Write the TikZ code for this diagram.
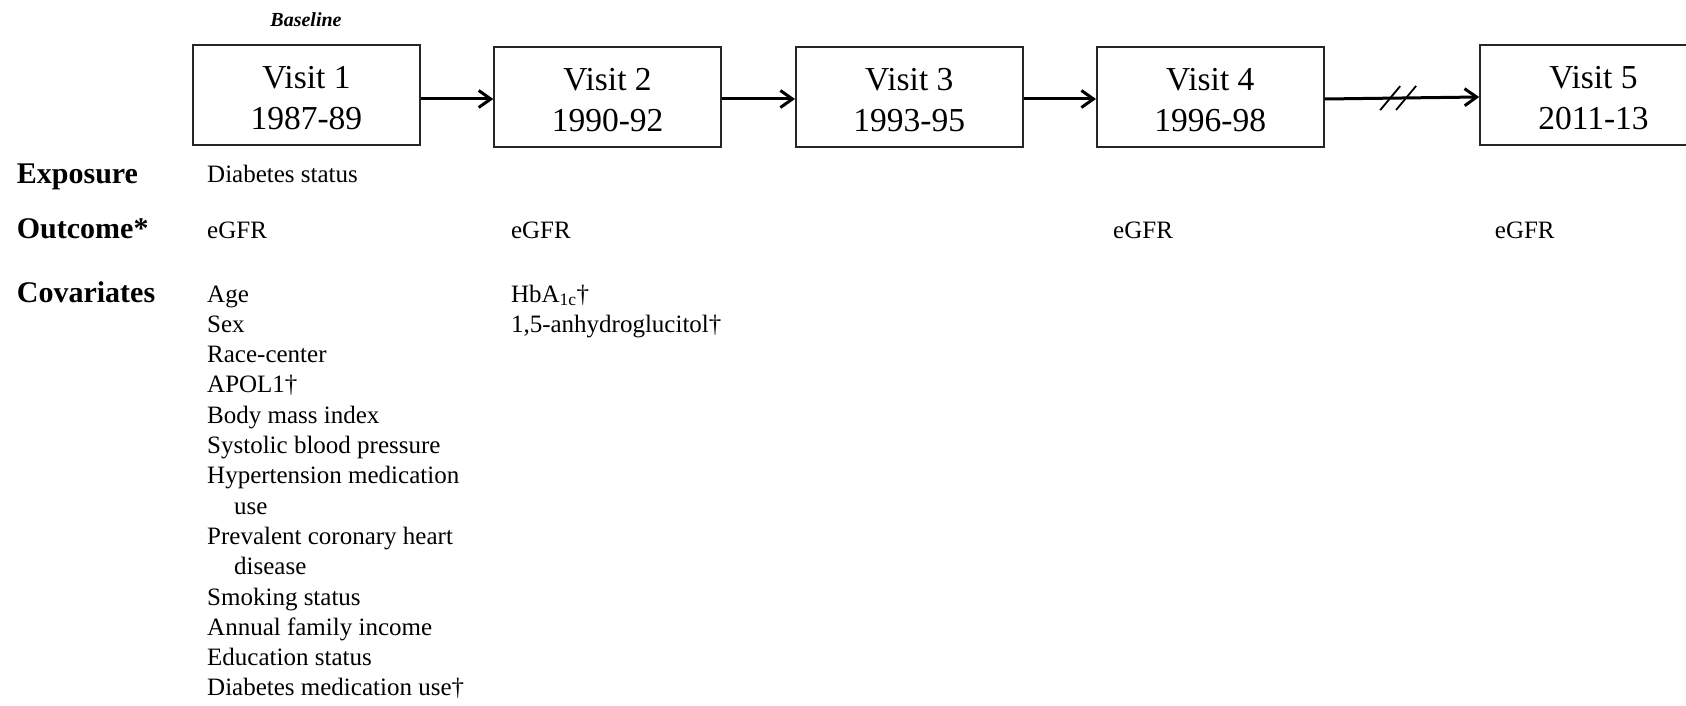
\documentclass[tikz,border=0pt]{standalone}
\usepackage{fontspec}
\setmainfont{Liberation Serif}
\usetikzlibrary{arrows.meta}
\begin{document}
\begin{tikzpicture}[x=1pt,y=-1pt,
  visit/.style={draw=black!85, line width=1.6pt, minimum width=227pt, minimum height=100pt,
    inner sep=0pt, align=center, font=\fontsize{33.5}{41}\selectfont},
  arr/.style={line width=3pt, -{Straight Barb[length=12pt,width=17pt]}},
  lab/.style={anchor=base west, inner sep=0pt, font=\fontsize{30}{34}\selectfont\bfseries},
  txt/.style={anchor=base west, inner sep=0pt, font=\fontsize{25}{30}\selectfont},
  hatch/.style={line width=1.8pt}]
\useasboundingbox (0,0) rectangle (1686,706);
\clip (0,0) rectangle (1686,706);

% visit boxes
\node[visit] (b1) at (306.4,95) {\rule{0pt}{28pt}Visit 1\\1987-89};
\node[visit] (b2) at (607.6,97) {\rule{0pt}{28pt}Visit 2\\1990-92};
\node[visit] (b3) at (909.3,97) {\rule{0pt}{28pt}Visit 3\\1993-95};
\node[visit] (b4) at (1210.3,97) {\rule{0pt}{28pt}Visit 4\\1996-98};
\node[visit] (b5) at (1593.5,95) {\rule{0pt}{28pt}Visit 5\\2011-13};

\node[anchor=base, inner sep=0pt, font=\fontsize{20}{24}\selectfont\bfseries\itshape] (bl) at (306,27) {Baseline};

% arrows
\draw[arr] ([yshift=-4pt]b1.east) -- ([yshift=-2pt]b2.west);
\draw[arr] ([yshift=-2pt]b2.east) -- ([yshift=-2pt]b3.west);
\draw[arr] ([yshift=-2pt]b3.east) -- ([yshift=-2pt]b4.west);
\draw[arr] ([yshift=-2pt]b4.east) -- ([yshift=-2pt]b5.west)
  coordinate[pos=0.424] (h1) coordinate[pos=0.527] (h2);
\draw[hatch] ([shift={(-10,12)}]h1) -- ([shift={(10,-12)}]h1);
\draw[hatch] ([shift={(-10,12)}]h2) -- ([shift={(10,-12)}]h2);

% row labels
\node[lab] (lexp) at (16.7,183) {Exposure};
\node[lab] (lout) at (16.7,238) {Outcome*};
\node[lab] (lcov) at (16.7,302) {Covariates};

% exposure / outcome
\node[txt] (exp1) at (207,182) {Diabetes status};
\node[txt] (out1) at (207,238) {eGFR};
\node[txt] (out2) at (510.8,238) {eGFR};
\node[txt] (out4) at (1113,238) {eGFR};
\node[txt] (out5) at (1494.7,238) {eGFR};

% covariates, visit 1
\node[txt] (c1)  at (207,302.0) {Age};
\node[txt] (c2)  at (207,332.3) {Sex};
\node[txt] (c3)  at (207,362.6) {Race-center};
\node[txt] (c4)  at (207,392.9) {APOL1†};
\node[txt] (c5)  at (207,423.2) {Body mass index};
\node[txt] (c6)  at (207,453.5) {Systolic blood pressure};
\node[txt] (c7)  at (207,483.8) {Hypertension medication};
\node[txt] (c8)  at (234,514.1) {use};
\node[txt] (c9)  at (207,544.4) {Prevalent coronary heart};
\node[txt] (c10) at (234,574.7) {disease};
\node[txt] (c11) at (207,605.0) {Smoking status};
\node[txt] (c12) at (207,635.3) {Annual family income};
\node[txt] (c13) at (207,665.6) {Education status};
\node[txt] (c14) at (207,695.9) {Diabetes medication use†};

% covariates, visit 2
\node[txt] (d1) at (510.8,302.0) {HbA\textsubscript{1c}†};
\node[txt] (d2) at (510.8,332.3) {1,5-anhydroglucitol†};
\end{tikzpicture}
\end{document}
